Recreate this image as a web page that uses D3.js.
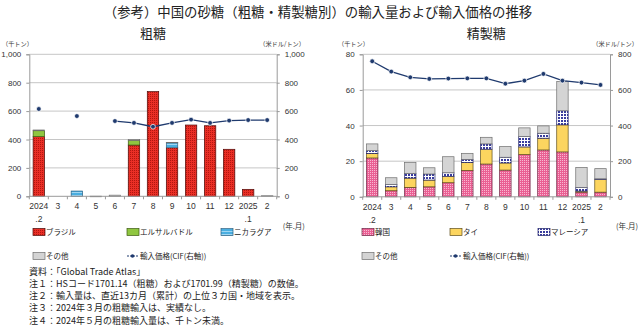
<!DOCTYPE html>
<html>
<head>
<meta charset="utf-8">
<script src="https://cdn.jsdelivr.net/npm/d3@7"></script>
<style>
  body { margin: 0; background: #fff; }
  svg { display: block; font-family: "Noto Sans CJK JP", "Noto Sans", sans-serif; }
</style>
</head>
<body>
<svg width="640" height="327"></svg>
<script>
//begin: data
var monthLabels = ["2024", "3", "4", "5", "6", "7", "8", "9", "10", "11", "12", "2025", "2"];
var monthSub    = [".2", "", "", "", "", "", "", "", "", "", "", ".1", ""];

// 粗糖 (千トン)
var rawBrazil     = [420, 0, 0, 0, 0, 361, 737, 342, 502, 497, 331, 49, 0];
var rawElSalvador = [42, 0, 0, 0, 0, 33, 0, 0, 0, 0, 0, 0, 0];
var rawNicaragua  = [0, 0, 37, 0, 0, 0, 0, 36, 0, 0, 0, 0, 0];
var rawOther      = [5, 0, 0, 0.8, 8, 6, 0, 2, 0, 0, 0, 0, 4];
var rawPrice      = [615, null, 565, null, 530, 517, 490, 517, 540, 517, 533, 537, 537];

// 精製糖 (千トン)
var refKorea    = [21.8, 3.4, 5.3, 5.6, 7.9, 14.8, 18.4, 15.0, 23.7, 26.3, 25.2, 2.6, 2.6];
var refThai     = [2.6, 2.2, 5.2, 3.8, 3.6, 4.5, 8.3, 4.0, 4.3, 6.6, 15.2, 0.6, 7.2];
var refMalaysia = [1.5, 1.3, 2.5, 3.4, 2.0, 1.7, 3.0, 3.2, 5.8, 2.8, 7.9, 2.1, 0.3];
var refOther    = [3.8, 3.8, 6.2, 3.5, 9.0, 3.4, 3.7, 6.0, 4.9, 4.1, 16.4, 11.2, 5.7];
var refPrice    = [761, 703, 671, 662, 664, 665, 665, 635, 652, 690, 652, 641, 628];

var rawTicks = [0, 200, 400, 600, 800, 1000];
var refTicks = [0, 20, 40, 60, 80];
var refPriceTicks = [0, 200, 400, 600, 800];

var notes = [
  "資料：「Global Trade Atlas」",
  "注１：HSコード1701.14（粗糖）および1701.99（精製糖）の数値。",
  "注２：輸入量は、直近13カ月（累計）の上位３カ国・地域を表示。",
  "注３：2024年３月の粗糖輸入は、実績なし。",
  "注４：2024年５月の粗糖輸入量は、千トン未満。"
];
//end: data

var svg = d3.select("svg");
var lineColor = "#1f3a6e";

//begin: patterns
var defs = svg.append("defs");
function pattern(id, w, h, bg, draw) {
  var p = defs.append("pattern").attr("id", id)
      .attr("patternUnits", "userSpaceOnUse").attr("width", w).attr("height", h);
  p.append("rect").attr("width", w).attr("height", h).attr("fill", bg);
  draw(p);
}
pattern("pBrazil", 2, 2, "#ea2f26", function(p) {
  p.append("rect").attr("x", 0).attr("y", 0).attr("width", 1).attr("height", 1).attr("fill", "#b3160f");
});
pattern("pNica", 3, 3, "#4aaee0", function(p) {
  p.append("rect").attr("x", 0).attr("y", 0).attr("width", 3).attr("height", 1).attr("fill", "#9fd6f2");
});
pattern("pKorea", 2, 2, "#ea5f93", function(p) {
  p.append("rect").attr("x", 0).attr("y", 0).attr("width", 1).attr("height", 1).attr("fill", "#f7b8d1");
});
pattern("pMalay", 3, 3, "#ffffff", function(p) {
  p.append("rect").attr("x", 0).attr("y", 0).attr("width", 2).attr("height", 2).attr("fill", "#3a3d9e");
});
//end: patterns

var rawSeries = [
  {name: "ブラジル", values: rawBrazil, fill: "url(#pBrazil)", stroke: "#4a0a08"},
  {name: "エルサルバドル", values: rawElSalvador, fill: "#8fc640", stroke: "#3d5a12"},
  {name: "ニカラグア", values: rawNicaragua, fill: "url(#pNica)", stroke: "#2a5e80"},
  {name: "その他", values: rawOther, fill: "#d4d4d4", stroke: "#6e6e6e"}
];
var refSeries = [
  {name: "韓国", values: refKorea, fill: "url(#pKorea)", stroke: "#6a2040"},
  {name: "タイ", values: refThai, fill: "#fcd55f", stroke: "#5e4e1a"},
  {name: "マレーシア", values: refMalaysia, fill: "url(#pMalay)", stroke: "#22246a"},
  {name: "その他", values: refOther, fill: "#d4d4d4", stroke: "#6e6e6e"}
];

// title
svg.append("text").attr("x", 318).attr("y", 17).attr("text-anchor", "middle")
  .style("font-size", "13.4px").style("fill", "#222")
  .text("（参考）中国の砂糖（粗糖・精製糖別）の輸入量および輸入価格の推移");

function drawPanel(p) {
  var g = svg.append("g");
  var n = monthLabels.length;
  var x = d3.scaleBand().domain(d3.range(n)).range([p.left, p.right])
      .paddingInner(0.4).paddingOuter(0.2);
  var bw = x.bandwidth();
  var y = d3.scaleLinear().domain([0, p.maxL]).range([p.bottom, p.top]);
  var yR = d3.scaleLinear().domain([0, p.maxR]).range([p.bottom, p.top]);

  // subtitle + units
  g.append("text").attr("x", (p.left + p.right) / 2).attr("y", 38).attr("text-anchor", "middle")
    .style("font-size", "13px").style("fill", "#222").text(p.title);
  g.append("text").attr("x", p.unitLx).attr("y", 46).style("font-size", "6.2px").style("fill", "#333").text("（千トン）");
  g.append("text").attr("x", p.unitRx).attr("y", 46).attr("text-anchor", "end")
    .style("font-size", "6.2px").style("fill", "#333").text("（米ドル/トン）");

  // gridlines
  g.selectAll(".grid").data(p.ticksL.slice(1)).enter().append("line")
    .attr("x1", p.left).attr("x2", p.right)
    .attr("y1", function(d) { return y(d); }).attr("y2", function(d) { return y(d); })
    .attr("stroke", "#c6c6c6").attr("stroke-width", 1);

  // stacked bars
  var rows = d3.range(n).map(function(i) {
    var r = {i: i};
    p.series.forEach(function(s, k) { r["s" + k] = s.values[i]; });
    return r;
  });
  var stacked = d3.stack().keys(p.series.map(function(s, k) { return "s" + k; }))(rows);
  stacked.forEach(function(layer, k) {
    var s = p.series[k];
    g.append("g").selectAll("rect").data(layer.filter(function(d) { return d[1] - d[0] > 0; }))
      .enter().append("rect")
        .attr("x", function(d) { return x(d.data.i); })
        .attr("width", bw)
        .attr("y", function(d) { return y(d[1]); })
        .attr("height", function(d) { return Math.max(0.6, y(d[0]) - y(d[1])); })
        .attr("fill", s.fill).attr("stroke", s.stroke).attr("stroke-width", 0.7);
  });

  // axes
  var axL = g.append("g").attr("transform", "translate(" + p.left + ",0)")
    .call(d3.axisLeft(y).tickValues(p.ticksL).tickSize(3).tickPadding(5).tickFormat(d3.format(",")));
  var axR = g.append("g").attr("transform", "translate(" + p.right + ",0)")
    .call(d3.axisRight(yR).tickValues(p.ticksR).tickSize(3).tickPadding(5).tickFormat(d3.format(",")));
  [axL, axR].forEach(function(a) {
    a.select(".domain").attr("stroke", "#9a9a9a");
    a.selectAll(".tick line").attr("stroke", "#9a9a9a");
    a.selectAll(".tick text").style("font-size", "8px").style("fill", "#333")
      .style("font-family", "'Liberation Sans', Arial, sans-serif");
  });

  g.append("line").attr("x1", p.left).attr("x2", p.right)
    .attr("y1", y(0)).attr("y2", y(0)).attr("stroke", "#9a9a9a");
  g.selectAll(".xtick").data(d3.range(n + 1)).enter().append("line")
    .attr("x1", function(i) { return p.left + i * x.step(); })
    .attr("x2", function(i) { return p.left + i * x.step(); })
    .attr("y1", y(0)).attr("y2", y(0) + 3).attr("stroke", "#9a9a9a");

  var xl = g.selectAll(".xlab").data(d3.range(n)).enter().append("text")
    .attr("text-anchor", "middle")
    .style("font-size", "8.5px").style("fill", "#333")
    .style("font-family", "'Liberation Sans', Arial, sans-serif");
  xl.append("tspan").attr("x", function(i) { return x(i) + bw / 2; }).attr("y", p.bottom + 13)
    .text(function(i) { return monthLabels[i]; });
  xl.append("tspan").attr("x", function(i) { return x(i) + bw / 2; }).attr("y", p.bottom + 26)
    .text(function(i) { return monthSub[i]; });
  g.append("text").attr("x", p.right + 6).attr("y", 229).style("font-size", "7.5px").style("fill", "#333")
    .text("(年.月)");

  // price line
  var line = d3.line()
    .defined(function(d) { return d != null; })
    .x(function(d, i) { return x(i) + bw / 2; })
    .y(function(d) { return yR(d); });
  g.append("path").datum(p.price).attr("d", line)
    .attr("fill", "none").attr("stroke", lineColor).attr("stroke-width", 1.3);
  g.selectAll(".dot").data(p.price.map(function(v, i) { return {v: v, i: i}; })
      .filter(function(d) { return d.v != null; }))
    .enter().append("circle")
      .attr("cx", function(d) { return x(d.i) + bw / 2; })
      .attr("cy", function(d) { return yR(d.v); })
      .attr("r", 2.4).attr("fill", lineColor).attr("stroke", "#fff").attr("stroke-width", 0.7);

  // legend
  var items = p.series.slice(0, 3).map(function(s, k) { return {s: s, x: p.legX[k], y: 232}; });
  items.push({s: p.series[3], x: p.legX[0], y: 256});
  items.forEach(function(it) {
    g.append("rect").attr("x", it.x).attr("y", it.y - 3.5).attr("width", 12).attr("height", 7)
      .attr("fill", it.s.fill).attr("stroke", it.s.stroke).attr("stroke-width", 0.7);
    g.append("text").attr("x", it.x + 13).attr("y", it.y + 2.7).style("font-size", "7.5px").style("fill", "#222")
      .text(it.s.name);
  });
  var lx = p.legX[1], ly = 256;
  g.append("line").attr("x1", lx).attr("x2", lx + 11).attr("y1", ly).attr("y2", ly)
    .attr("stroke", lineColor).attr("stroke-width", 1.2).attr("stroke-dasharray", "2,1");
  g.append("circle").attr("cx", lx + 5.5).attr("cy", ly).attr("r", 1.8).attr("fill", lineColor);
  g.append("text").attr("x", lx + 13).attr("y", ly + 2.7).style("font-size", "7.5px").style("fill", "#222")
    .text("輸入価格(CIF(右軸))");
}

drawPanel({
  title: "粗糖", left: 29.3, right: 276.7, top: 54.3, bottom: 196.3,
  maxL: 1000, maxR: 1000, ticksL: rawTicks, ticksR: rawTicks,
  series: rawSeries, price: rawPrice,
  unitLx: 2, unitRx: 305, legX: [33, 127, 221]
});
drawPanel({
  title: "精製糖", left: 362.7, right: 610, top: 54.3, bottom: 196.8,
  maxL: 80, maxR: 800, ticksL: refTicks, ticksR: refPriceTicks,
  series: refSeries, price: refPrice,
  unitLx: 338, unitRx: 638, legX: [362, 450, 538]
});

// notes
svg.append("g").selectAll("text").data(notes).enter().append("text")
  .attr("x", 29).attr("y", function(d, i) { return 274.5 + i * 12.3; })
  .style("font-size", "9px").style("fill", "#222")
  .text(function(d) { return d; });
</script>
</body>
</html>
